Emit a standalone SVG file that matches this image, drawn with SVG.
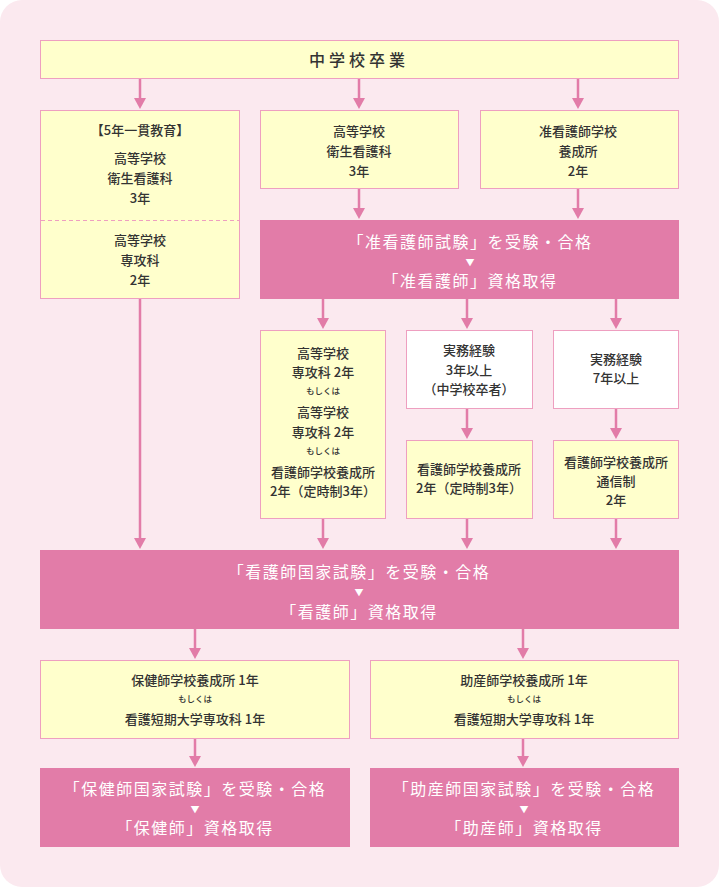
<svg xmlns="http://www.w3.org/2000/svg" width="719" height="887" viewBox="0 0 719 887">
<style>
text{font-family:"Noto Sans CJK JP","Noto Sans",sans-serif;text-anchor:middle;fill:#333}
.y{fill:#ffffcc;stroke:#ee9fc0;stroke-width:1}
.w{fill:#fff;stroke:#ee9fc0;stroke-width:1}
.p{fill:#e27ca8}
.s{font-size:13px;font-weight:500}
.t{font-size:8.5px;font-weight:500}
.l{font-size:16px;fill:#fff;letter-spacing:1.5px}
.v{font-size:9px;fill:#fff}
.c{stroke:#e27ca8;stroke-width:2.5;fill:none}
</style>
<defs><path id="h" d="M-6,0L6,0L0,11z" fill="#e27ca8"/></defs>
<rect width="719" height="887" rx="22" fill="#fbe9ef"/>
<g id="connectors">
<path class="c" d="M140,78V98M359,78V98M578,78V98M359,188V208M578,188V208M140,298V538M323,298V318M467,298V318M616,298V318M467,408V428M616,408V428M323,518V538M467,518V538M616,518V538M195,628V648M523,628V648M195,738V756M523,738V756"/>
<use href="#h" x="140" y="98"/><use href="#h" x="359" y="98"/><use href="#h" x="578" y="98"/>
<use href="#h" x="359" y="208"/><use href="#h" x="578" y="208"/>
<use href="#h" x="323" y="318"/><use href="#h" x="467" y="318"/><use href="#h" x="616" y="318"/>
<use href="#h" x="467" y="428"/><use href="#h" x="616" y="428"/>
<use href="#h" x="140" y="538"/><use href="#h" x="323" y="538"/><use href="#h" x="467" y="538"/><use href="#h" x="616" y="538"/>
<use href="#h" x="195" y="648"/><use href="#h" x="523" y="648"/>
<use href="#h" x="195" y="756"/><use href="#h" x="523" y="756"/>
</g>
<g id="n1"><rect class="y" x="40.5" y="40.5" width="638" height="38"/><text x="359" y="66" style="font-size:16px;font-weight:500;letter-spacing:4px">中学校卒業</text></g>
<g id="n2"><rect class="y" x="40.5" y="110.5" width="199" height="188"/>
<line x1="41" y1="220.5" x2="239" y2="220.5" stroke="#ee9fc0" stroke-dasharray="4,3"/>
<text class="s" x="140" y="135">【5年一貫教育】</text><text class="s" x="140" y="163">高等学校</text><text class="s" x="140" y="183">衛生看護科</text><text class="s" x="140" y="203">3年</text>
<text class="s" x="140" y="245">高等学校</text><text class="s" x="140" y="265">専攻科</text><text class="s" x="140" y="285">2年</text></g>
<g id="n3"><rect class="y" x="260.5" y="110.5" width="198" height="78"/><text class="s" x="359" y="136">高等学校</text><text class="s" x="359" y="156">衛生看護科</text><text class="s" x="359" y="176">3年</text></g>
<g id="n4"><rect class="y" x="480.5" y="110.5" width="198" height="78"/><text class="s" x="578" y="136">准看護師学校</text><text class="s" x="578" y="156">養成所</text><text class="s" x="578" y="176">2年</text></g>
<g id="n5"><rect class="p" x="260" y="220" width="419" height="79"/><text class="l" x="470" y="248">「准看護師試験」を受験・合格</text><text class="v" x="470" y="266">▼</text><text class="l" x="470" y="287">「准看護師」資格取得</text></g>
<g id="n6"><rect class="y" x="260.5" y="330.5" width="125" height="188"/>
<text class="s" x="323" y="358">高等学校</text><text class="s" x="323" y="377">専攻科 2年</text><text class="t" x="323" y="394">もしくは</text>
<text class="s" x="323" y="417">高等学校</text><text class="s" x="323" y="437">専攻科 2年</text><text class="t" x="323" y="454">もしくは</text>
<text class="s" x="323" y="477">看護師学校養成所</text><text class="s" x="323" y="496">2年（定時制3年）</text></g>
<g id="n7"><rect class="w" x="406.5" y="330.5" width="126" height="78"/><text class="s" x="469" y="355">実務経験</text><text class="s" x="469" y="375">3年以上</text><text class="s" x="469" y="394">（中学校卒者）</text></g>
<g id="n8"><rect class="w" x="553.5" y="330.5" width="125" height="78"/><text class="s" x="616" y="364">実務経験</text><text class="s" x="616" y="383">7年以上</text></g>
<g id="n9"><rect class="y" x="406.5" y="440.5" width="126" height="78"/><text class="s" x="469" y="474">看護師学校養成所</text><text class="s" x="469" y="493">2年（定時制3年）</text></g>
<g id="n10"><rect class="y" x="553.5" y="440.5" width="125" height="78"/><text class="s" x="616" y="467">看護師学校養成所</text><text class="s" x="616" y="486">通信制</text><text class="s" x="616" y="505">2年</text></g>
<g id="n11"><rect class="p" x="40" y="550" width="639" height="79"/><text class="l" x="359" y="578">「看護師国家試験」を受験・合格</text><text class="v" x="359" y="596">▼</text><text class="l" x="359" y="618">「看護師」資格取得</text></g>
<g id="n12"><rect class="y" x="40.5" y="660.5" width="309" height="78"/><text class="s" x="195" y="685">保健師学校養成所 1年</text><text class="t" x="195" y="702">もしくは</text><text class="s" x="195" y="724">看護短期大学専攻科 1年</text></g>
<g id="n13"><rect class="y" x="370.5" y="660.5" width="308" height="78"/><text class="s" x="524" y="685">助産師学校養成所 1年</text><text class="t" x="524" y="702">もしくは</text><text class="s" x="524" y="724">看護短期大学専攻科 1年</text></g>
<g id="n14"><rect class="p" x="40" y="768" width="310" height="79"/><text class="l" x="195" y="795">「保健師国家試験」を受験・合格</text><text class="v" x="195" y="813">▼</text><text class="l" x="195" y="834">「保健師」資格取得</text></g>
<g id="n15"><rect class="p" x="370" y="768" width="309" height="79"/><text class="l" x="524" y="795">「助産師国家試験」を受験・合格</text><text class="v" x="524" y="813">▼</text><text class="l" x="524" y="834">「助産師」資格取得</text></g>
</svg>
